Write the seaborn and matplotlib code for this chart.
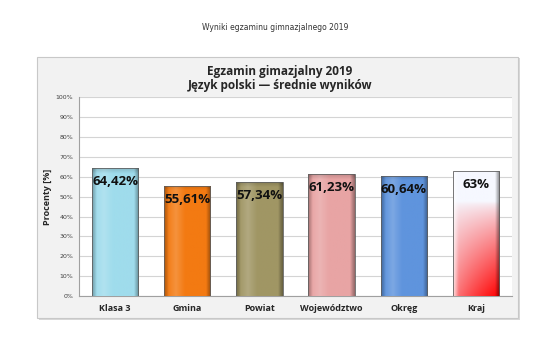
import numpy as np
import pandas as pd
import matplotlib
matplotlib.use("Agg")
import matplotlib.pyplot as plt
from matplotlib.patches import Rectangle
from matplotlib.colors import to_rgb
import seaborn as sns

# ----------------------------------------------------------
# Data
# ----------------------------------------------------------
categories = ["Klasa 3", "Gmina", "Powiat", "Województwo", "Okręg", "Kraj"]
values = [64.42, 55.61, 57.34, 61.23, 60.64, 63.0]
value_labels = ["64,42%", "55,61%", "57,34%", "61,23%", "60,64%", "63%"]
bar_colors = ["#9fdcec", "#f37a12", "#a09664", "#e8a4a4", "#5f94dd", "#ffffff"]
y_ticks = [0, 10, 20, 30, 40, 50, 60, 70, 80, 90, 100]

df = pd.DataFrame({"kategoria": categories, "wynik": values})

sns.set_style("white")
plt.rcParams["font.family"] = ["Open Sans", "DejaVu Sans"]

fig = plt.figure(figsize=(5.5, 3.58), dpi=100)
W, H = 550, 358

# page header
fig.text(275 / W, 1 - 28 / H, "Wyniki egzaminu gimnazjalnego 2019",
         ha="center", va="center", fontsize=5.5, color="#333333",
         family=["DejaVu Sans"])

# chart area box (with soft shadow)
fig.patches.append(Rectangle((39 / W, 1 - 320 / H), 481 / W, 262 / H,
                             transform=fig.transFigure, facecolor="#d8d8d8",
                             edgecolor="none", zorder=0))
fig.patches.append(Rectangle((37 / W, 1 - 318 / H), 481 / W, 261 / H,
                             transform=fig.transFigure, facecolor="#f2f2f2",
                             edgecolor="#c8c8c8", linewidth=0.8, zorder=1))

fig.text(280 / W, 1 - 71 / H, "Egzamin gimazjalny 2019",
         ha="center", va="center", fontsize=8.5, fontweight="bold")
fig.text(280 / W, 1 - 85 / H, "Język polski — średnie wyników",
         ha="center", va="center", fontsize=8.5, fontweight="bold")

# plot area
x0, x1 = 79, 512
ytop, ybot = 97.4, 296
ax = fig.add_axes([x0 / W, 1 - ybot / H, (x1 - x0) / W, (ybot - ytop) / H])
ax.set_facecolor("white")
ax.set_zorder(2)

sns.barplot(data=df, x="kategoria", y="wynik", hue="kategoria",
            palette=bar_colors, legend=False, width=0.64, ax=ax,
            edgecolor="none", zorder=3)

ax.set_ylim(0, 100)
ax.set_xlim(-0.5, len(categories) - 0.5)
ax.set_yticks(y_ticks)
ax.set_yticklabels([f"{t}%" for t in y_ticks], fontsize=4.5, color="#404040",
                   family=["DejaVu Sans"])
ax.yaxis.grid(True, color="#d4d4d4", linewidth=0.8, zorder=0)
ax.set_axisbelow(True)
ax.tick_params(axis="y", length=2, width=0.6, color="#a0a0a0", pad=2)
ax.tick_params(axis="x", length=0, pad=6)
ax.set_xticks(range(len(categories)))
ax.set_xticklabels(categories, fontsize=6.5, fontweight="bold")
ax.set_xticks(np.arange(-0.5, len(categories), 1), minor=True)
ax.tick_params(axis="x", which="minor", length=2.5, width=0.6, color="#a0a0a0")
ax.set_xlabel("")
ax.set_ylabel("Procenty [%]", fontsize=6.5, fontweight="bold", labelpad=3)
for s in ["top", "right"]:
    ax.spines[s].set_visible(False)
for s in ["left", "bottom"]:
    ax.spines[s].set_color("#a0a0a0")
    ax.spines[s].set_linewidth(0.8)

# bevel-like shading and the white -> red gradient of the last bar
bars = list(ax.patches)
nx, ny = 60, 120
xs = np.linspace(0, 1, nx)[None, :]
ys = np.linspace(0, 1, ny)[:, None]
for i, patch in enumerate(bars):
    bx, by = patch.get_x(), patch.get_y()
    bw, bh = patch.get_width(), patch.get_height()
    if i == len(bars) - 1:
        red = np.array(to_rgb("#ff0000"))
        white = np.array(to_rgb("#f6f8ff"))
        d = 1 - ys  # depth from the top
        t = np.clip((d - 0.25) / 0.75, 0, 1) ** 0.7
        t = t * (0.45 + 0.55 * xs ** 0.8)
        t = t * (0.75 + 0.25 * d)
        img = white * (1 - t[..., None]) + red * t[..., None]
        light = 0.7 * np.clip(1 - xs / 0.12, 0, 1)
        img = img * (1 - light[..., None]) + light[..., None]
        dark = 0.45 * np.clip((xs - 0.9) / 0.1, 0, 1)
        img = img * (1 - dark[..., None])
    else:
        base = np.array(to_rgb(bar_colors[i]))
        shade = 1 - 0.28 * np.clip(1 - xs / 0.1, 0, 1) - 0.35 * np.clip((xs - 0.9) / 0.1, 0, 1)
        shade = shade - 0.15 * np.clip((ys - 0.96) / 0.04, 0, 1)
        hl = 0.18 * np.clip(1 - np.abs(xs - 0.25) / 0.2, 0, 1)
        hl = np.broadcast_to(hl, shade.shape)
        img = base * shade[..., None] + hl[..., None] * (1 - base)
    img = np.clip(img, 0, 1)
    im = ax.imshow(img, extent=[bx, bx + bw, by, by + bh], origin="lower",
                   aspect="auto", zorder=4, interpolation="bilinear")
    im.set_clip_path(patch)
    ax.add_patch(Rectangle((bx, by), bw, bh, fill=False, edgecolor="#606060",
                           linewidth=0.6, zorder=5))

ax.set_xlim(-0.5, len(categories) - 0.5)
ax.set_ylim(0, 100)

for i, v in enumerate(values):
    ax.annotate(value_labels[i], (i, v), xytext=(0, -5),
                textcoords="offset points", ha="center", va="top",
                fontsize=9.5, fontweight="bold", color="#111111", zorder=6)

fig.savefig("out.png", dpi=100)
